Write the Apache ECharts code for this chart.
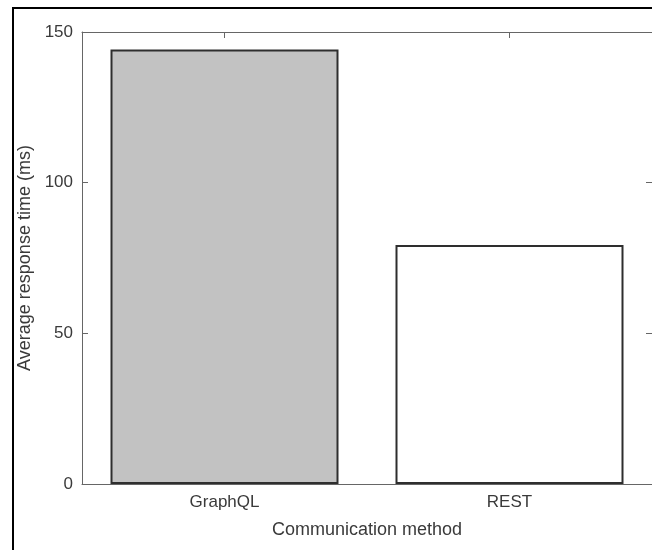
<!DOCTYPE html>
<html>
<head>
<meta charset="utf-8">
<script src="https://cdn.jsdelivr.net/npm/echarts@6/dist/echarts.min.js"></script>
<style>
  html, body { margin: 0; padding: 0; background: #fff; }
  #main { width: 652px; height: 550px; }
</style>
</head>
<body>
<div id="main"></div>
<script>
// 数据
var categories = ['GraphQL', 'REST'];
var responseTimes = [144.2, 79.3];
var barColors = ['#c2c2c2', '#ffffff'];
var yTicks = [0, 50, 100, 150];

var myChart = echarts.init(document.getElementById('main'));

var fontFamily = 'Liberation Sans, Arial, Helvetica, sans-serif';
var axisColor = '#666';
var textColor = '#3a3a3a';

myChart.setOption({
    animation: false,
    backgroundColor: '#fff',
    // 外框
    graphic: [{
        type: 'rect',
        shape: { x: 13, y: 8, width: 700, height: 600 },
        style: { fill: 'none', stroke: '#000', lineWidth: 2 },
        silent: true
    }],
    grid: { left: 82, top: 32, width: 572, height: 452 },
    xAxis: [{
        type: 'category',
        data: categories,
        position: 'bottom',
        boundaryGap: true,
        name: 'Communication method',
        nameLocation: 'middle',
        nameGap: 37,
        nameTextStyle: { fontFamily: fontFamily, fontSize: 18, color: textColor },
        axisLine: { onZero: false, lineStyle: { color: axisColor, width: 1 } },
        axisTick: { show: true, alignWithLabel: true, inside: true, length: 6, lineStyle: { color: axisColor } },
        axisLabel: { margin: 10, fontFamily: fontFamily, fontSize: 17, color: textColor },
        splitLine: { show: false }
    }, {
        type: 'category',
        data: categories,
        position: 'top',
        boundaryGap: true,
        axisLine: { onZero: false, lineStyle: { color: axisColor, width: 1 } },
        axisTick: { show: true, alignWithLabel: true, inside: true, length: 6, interval: 0, lineStyle: { color: axisColor } },
        axisLabel: { show: true, color: 'rgba(0,0,0,0)', fontSize: 10 },
        splitLine: { show: false }
    }],
    yAxis: [{
        type: 'value',
        min: yTicks[0],
        max: yTicks[yTicks.length - 1],
        interval: 50,
        position: 'left',
        name: 'Average response time (ms)',
        nameLocation: 'middle',
        nameGap: 40,
        nameTextStyle: { fontFamily: fontFamily, fontSize: 18, color: textColor },
        axisLine: { show: true, onZero: false, lineStyle: { color: axisColor, width: 1 } },
        axisTick: { show: true, inside: true, length: 6, lineStyle: { color: axisColor } },
        axisLabel: { margin: 9, fontFamily: fontFamily, fontSize: 17, color: textColor },
        splitLine: { show: false }
    }, {
        type: 'value',
        min: yTicks[0],
        max: yTicks[yTicks.length - 1],
        interval: 50,
        position: 'right',
        axisLine: { show: true, onZero: false, lineStyle: { color: axisColor, width: 1 } },
        axisTick: { show: true, inside: true, length: 6, lineStyle: { color: axisColor } },
        axisLabel: { show: false },
        splitLine: { show: false }
    }],
    series: [{
        type: 'bar',
        xAxisIndex: 0,
        yAxisIndex: 0,
        barWidth: '80%',
        data: responseTimes.map(function (v, i) {
            return {
                value: v,
                itemStyle: { color: barColors[i], borderColor: '#2e2e2e', borderWidth: 2 }
            };
        })
    }]
});
</script>
</body>
</html>
